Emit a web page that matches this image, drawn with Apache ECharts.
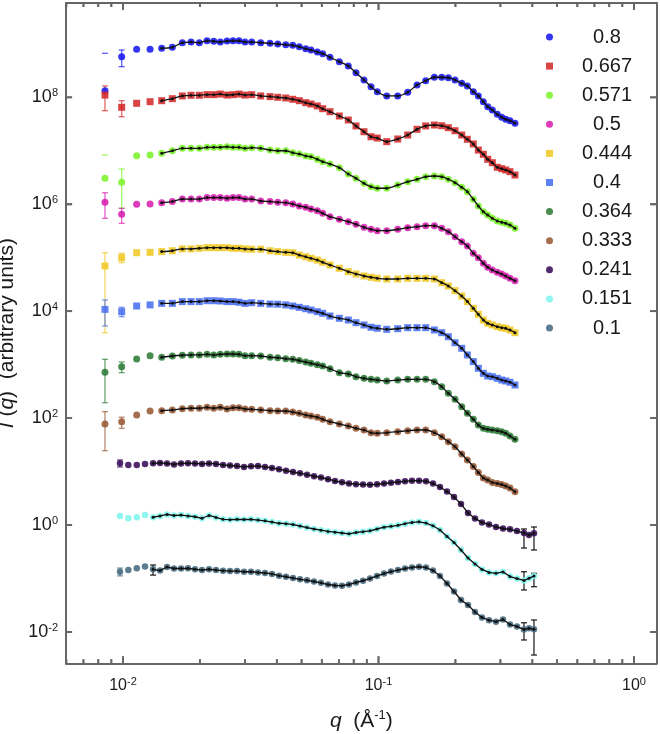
<!DOCTYPE html>
<html><head><meta charset="utf-8">
<script src="https://cdn.jsdelivr.net/npm/echarts@6/dist/echarts.min.js"></script>
<style>html,body{margin:0;padding:0;background:#fff}#c{width:660px;height:734px}</style>
</head><body><div id="c"></div><script>
// ---------- data ----------
const qTop = [0.00850,0.00988,0.01131,0.01276,0.01417,0.01560,0.01707,0.01846,0.01989,0.02132,
0.02265,0.02403,0.02553,0.02695,0.02844,0.03002,0.03189,0.03459,0.03761,0.04033,
0.04334,0.04616,0.04898,0.05190,0.05442,0.05761,0.06047,0.06457,0.07025,0.07617,
0.08164,0.08774,0.09346,0.09892,0.1077,0.1189,0.1301,0.1415,0.1530,0.1654,
0.1768,0.1876,0.1993,0.2117,0.2227,0.2350,0.2459,0.2572,0.2676,0.2789,
0.2917,0.3035,0.3147,0.3271,0.3421];
const qBot = [0.009733,0.01049,0.01132,0.01219,0.01311,0.01396,0.01487,0.01583,0.01687,0.01796,
0.01913,0.02038,0.02171,0.02312,0.02463,0.02623,0.02794,0.02976,0.03170,0.03376,
0.03596,0.03830,0.04080,0.04345,0.04628,0.04929,0.05250,0.05592,0.05957,0.06344,
0.06756,0.07197,0.07665,0.08164,0.08696,0.09262,0.09866,0.1051,0.1119,0.1192,
0.1270,0.1352,0.1441,0.1534,0.1634,0.1740,0.1854,0.1975,0.2103,0.2240,
0.2386,0.2541,0.2707,0.2883,0.3071,0.3271,0.3483,0.3710,0.3881,0.4060];

const I_0800 = [1.33e8,5.74e8,7.91e8,7.91e8,8.30e8,8.61e8,1.05e9,1.08e9,1.05e9,1.14e9,
1.12e9,1.08e9,1.13e9,1.14e9,1.14e9,1.08e9,1.08e9,1.05e9,1.02e9,9.93e8,
9.63e8,9.39e8,8.84e8,8.11e8,7.67e8,7.04e8,6.54e8,5.60e8,4.63e8,3.85e8,
2.88e8,2.11e8,1.58e8,1.27e8,1.06e8,1.06e8,1.24e8,1.70e8,2.04e8,2.37e8,
2.37e8,2.33e8,2.11e8,1.83e8,1.63e8,1.27e8,1.06e8,8.27e7,6.67e7,5.79e7,
4.81e7,4.23e7,3.88e7,3.65e7,3.26e7];
const I_0667 = [1.10e8,6.50e7,7.72e7,8.27e7,8.64e7,9.42e7,1.06e8,1.09e8,1.09e8,1.12e8,
1.12e8,1.15e8,1.10e8,1.12e8,1.15e8,1.10e8,1.12e8,1.06e8,1.03e8,1.00e8,
9.70e7,9.18e7,8.64e7,7.93e7,7.49e7,6.88e7,6.12e7,5.38e7,4.47e7,3.76e7,
2.91e7,2.27e7,1.83e7,1.73e7,1.48e7,1.66e7,1.97e7,2.52e7,2.91e7,3.03e7,
2.94e7,2.70e7,2.37e7,1.97e7,1.64e7,1.34e7,1.03e7,8.59e6,6.92e6,5.98e6,
4.91e6,4.62e6,4.37e6,4.06e6,3.52e6];
const I_0571 = [3.06e6,2.57e6,8.09e6,8.34e6,8.97e6,1.00e7,1.11e7,1.11e7,1.11e7,1.16e7,
1.16e7,1.16e7,1.19e7,1.16e7,1.16e7,1.11e7,1.14e7,1.11e7,1.03e7,1.00e7,
1.00e7,9.20e6,8.70e6,7.99e6,7.75e6,6.92e6,6.25e6,5.66e6,4.83e6,3.68e6,
3.06e6,2.46e6,2.13e6,1.99e6,1.99e6,2.29e6,2.64e6,2.93e6,3.27e6,3.37e6,
3.27e6,2.93e6,2.53e6,2.07e6,1.72e6,1.24e6,9.27e5,7.25e5,6.29e5,5.46e5,
4.86e5,4.60e5,4.40e5,4.09e5,3.55e5];
const I_0500 = [1.09e6,6.48e5,9.98e5,1.01e6,1.07e6,1.12e6,1.25e6,1.25e6,1.25e6,1.33e6,
1.33e6,1.33e6,1.29e6,1.33e6,1.33e6,1.25e6,1.25e6,1.15e6,1.12e6,1.09e6,
1.07e6,1.01e6,9.27e5,8.77e5,8.15e5,7.57e5,6.77e5,5.85e5,5.23e5,4.72e5,
4.21e5,3.71e5,3.40e5,3.20e5,3.20e5,3.40e5,3.64e5,3.80e5,3.97e5,3.97e5,
3.55e5,3.07e5,2.47e5,1.99e5,1.66e5,1.21e5,1.00e5,7.86e4,6.62e4,5.89e4,
5.34e4,4.96e4,4.55e4,4.12e4,3.72e4];
const I_0444 = [7.00e4,1.00e5,1.24e5,1.26e5,1.30e5,1.35e5,1.46e5,1.46e5,1.50e5,1.54e5,
1.54e5,1.54e5,1.54e5,1.50e5,1.50e5,1.46e5,1.44e5,1.44e5,1.35e5,1.30e5,
1.26e5,1.24e5,1.12e5,1.04e5,9.75e4,9.06e4,8.21e4,7.31e4,6.34e4,5.48e4,
4.96e4,4.55e4,4.30e4,4.12e4,4.00e4,4.00e4,4.12e4,4.12e4,4.12e4,4.00e4,
3.41e4,2.96e4,2.42e4,1.92e4,1.51e4,1.13e4,8.74e3,6.84e3,5.93e3,5.52e3,
5.13e3,4.91e3,4.79e3,4.45e3,3.96e3];
const I_0400 = [1.08e4,9.78e3,1.25e4,1.31e4,1.40e4,1.40e4,1.51e4,1.51e4,1.51e4,1.57e4,
1.57e4,1.55e4,1.51e4,1.51e4,1.47e4,1.40e4,1.44e4,1.40e4,1.36e4,1.35e4,
1.31e4,1.25e4,1.18e4,1.11e4,1.05e4,9.78e3,9.13e3,8.12e3,7.36e3,6.84e3,
6.09e3,5.52e3,5.00e3,4.79e3,4.58e3,4.70e3,4.91e3,4.91e3,4.91e3,4.45e3,
3.96e3,3.33e3,2.57e3,2.02e3,1.52e3,1.14e3,855,689,613,595,
555,516,495,468,416];
const I_0364 = [719,916,1.28e3,1.47e3,1.37e3,1.45e3,1.50e3,1.52e3,1.52e3,1.56e3,
1.52e3,1.56e3,1.58e3,1.58e3,1.56e3,1.47e3,1.47e3,1.45e3,1.37e3,1.35e3,
1.29e3,1.26e3,1.19e3,1.12e3,1.06e3,998,943,840,707,669,
595,555,532,516,495,516,532,532,532,480,
387,291,225,164,123,95.0,74.3,64.5,61.8,60.0,
58.2,55.7,52.0,46.3,40.2];
const I_0333 = [77.6,85.7,114,136,138,142,150,153,153,159,
153,159,148,157,157,148,146,142,138,136,
136,130,123,114,110,104,95.0,85.7,77.6,71.2,
64.5,60.0,53.4,52.0,53.4,55.7,58.2,60.0,60.0,53.4,
44.9,36.2,29.2,21.3,16.5,12.5,9.62,7.59,6.96,6.25,
5.99,5.73,5.38,4.93,4.21];
const I_0241 = [14.3,13.3,13.3,13.9,14.3,14.5,14.2,13.6,14.2,14.3,
14.2,13.9,14.2,13.9,13.3,13.0,12.7,12.2,12.6,12.7,
12.2,11.7,11.0,10.4,9.82,9.29,8.75,8.20,7.75,7.21,
6.67,6.31,5.99,5.81,5.73,5.69,5.79,5.99,6.20,6.39,
6.58,6.75,6.75,6.58,5.99,5.15,4.24,3.35,2.48,1.68,
1.33,1.12,1.02,0.920,0.862,0.833,0.774,0.710,0.652,0.701];
const I_0151 = [1.48,1.34,1.40,1.54,1.40,1.48,1.58,1.51,1.54,1.48,
1.43,1.34,1.51,1.39,1.28,1.26,1.28,1.27,1.28,1.24,
1.20,1.14,1.08,1.06,1.02,0.960,0.896,0.844,0.802,0.761,
0.735,0.710,0.686,0.726,0.751,0.781,0.844,0.912,0.948,0.990,
1.06,1.12,1.15,1.09,0.969,0.808,0.611,0.472,0.342,0.242,
0.187,0.148,0.130,0.125,0.133,0.109,0.100,0.0919,0.101,0.112];
const I_0100 = [0.134,0.144,0.155,0.167,0.149,0.141,0.164,0.154,0.154,0.155,
0.149,0.144,0.149,0.144,0.140,0.138,0.138,0.134,0.134,0.130,
0.127,0.122,0.113,0.108,0.102,0.0967,0.0927,0.0880,0.0832,0.0773,
0.0741,0.0734,0.0773,0.0843,0.0911,0.100,0.112,0.124,0.135,0.144,
0.154,0.161,0.166,0.161,0.141,0.112,0.0807,0.0572,0.0397,0.0320,
0.0237,0.0187,0.0166,0.0156,0.0171,0.0138,0.0127,0.0111,0.0117,0.0112];

// error bars: [point index, lower (null = cap only), upper]
const E_0800 = [[0,null,6.65e8],[1,3.74e8,7.67e8]];
const E_0667 = [[0,5.62e7,1.63e8],[1,4.34e7,8.64e7]];
const E_0571 = [[0,null,8.34e6],[1,8.40e5,4.56e6]];
const E_0500 = [[0,5.46e5,1.64e6],[1,4.40e5,8.40e5]];
const E_0444 = [[0,3.96e3,1.24e5],[1,8.07e4,1.21e5]];
const E_0400 = [[0,5.28e3,1.62e4],[1,7.88e3,1.18e4]];
const E_0364 = [[0,194,1.26e3],[1,707,1.12e3]];
const E_0333 = [[0,24.6,132],[1,64.5,104]];
const E_0241 = [[0,12.2,16.5],[57,0.372,0.844],[59,0.342,0.920]];
const E_0151 = [[57,0.0610,0.134],[59,0.0704,0.125]];
const E_0100 = [[0,0.112,0.157],[4,0.116,0.179],[57,0.00709,0.0149],[59,0.00371,0.0168]];

const legendNames = ['0.8','0.667','0.571','0.5','0.444','0.4','0.364','0.333','0.241','0.151','0.1'];
const xMajorTicks = [0.01,0.1,1];
const xMinorTicks = [0.006,0.007,0.008,0.009,0.02,0.03,0.04,0.05,0.06,0.07,0.08,0.09,0.2,0.3,0.4,0.5,0.6,0.7,0.8,0.9];
const yMajorTicks = [1e-2,1,1e2,1e4,1e6,1e8];
const xRange = [0.005982,1.227];
const yRange = [0.002598,5.80e9];

// ---------- styling ----------
const colors = ['#1818f2','#d42a2a','#7cf22a','#d820b0','#f0c824','#4a6ff0','#2e7d38','#9a5a36','#3a0c5a','#80f5ee','#456a80'];
const symbols = ['circle','rect','circle','circle','rect','rect','circle','circle','circle','circle','circle'];
const sets = [
  [qTop,I_0800,E_0800],[qTop,I_0667,E_0667],[qTop,I_0571,E_0571],[qTop,I_0500,E_0500],
  [qTop,I_0444,E_0444],[qTop,I_0400,E_0400],[qTop,I_0364,E_0364],[qTop,I_0333,E_0333],
  [qBot,I_0241,E_0241],[qBot,I_0151,E_0151],[qBot,I_0100,E_0100]
];
const FIT_START = 4;
const FONT = 'Liberation Sans, Arial, Helvetica, sans-serif';
const AX = '#666666';
const TXT = '#1a1a1a';
// tick lengths expressed as fractions of a decade on each log axis
const TICK_MAJ_Y = 0.13, TICK_MIN_Y = 0.075;
const TICK_Y_L = 0.024, TICK_Y_R = 0.026;

function supLabel(v){
  const e = Math.round(Math.log10(v));
  return '{b|10}{s|' + e + '}';
}

function makeErr(q, err, color){
  return function(params, api){
    const e = err[params.dataIndex];
    const x = q[e[0]];
    const hi = api.coord([x, e[2]]);
    const c = e[0] >= FIT_START ? '#111' : color;
    const st = {stroke: c, lineWidth: 1.3, opacity: e[0] >= FIT_START ? 0.9 : 0.7};
    const w = 3;
    const ch = [];
    if (e[1] != null) {
      const lo = api.coord([x, e[1]]);
      ch.push({type:'line', shape:{x1:lo[0],y1:lo[1],x2:hi[0],y2:hi[1]}, style:st});
      ch.push({type:'line', shape:{x1:lo[0]-w,y1:lo[1],x2:lo[0]+w,y2:lo[1]}, style:st});
    }
    ch.push({type:'line', shape:{x1:hi[0]-w,y1:hi[1],x2:hi[0]+w,y2:hi[1]}, style:st});
    return {type:'group', children: ch};
  };
}

const series = [];
sets.forEach((s, k) => {
  const q = s[0], I = s[1], err = s[2];
  const pts = q.map((v, i) => [v, I[i]]);
  series.push({
    type:'custom', name:'err'+k, silent:true, z:1,
    renderItem: makeErr(q, err, colors[k]),
    data: err.map(e => [q[e[0]], e[2]]),
    xAxisIndex:0, yAxisIndex:0
  });
  series.push({
    type:'scatter', name: legendNames[k], data: pts,
    symbol: symbols[k], symbolSize: k >= 8 ? 6.5 : 7,
    itemStyle:{color: colors[k], opacity: 0.88},
    z:2, xAxisIndex:0, yAxisIndex:0, silent:true
  });
  series.push({
    type:'line', name:'fit'+k, data: pts.slice(FIT_START),
    smooth: k < 8 ? 0.3 : false,
    symbol:'circle', symbolSize: 3, showSymbol:true,
    lineStyle:{color:'#111', width:1.3},
    itemStyle:{color:'#111'},
    z:3, xAxisIndex:0, yAxisIndex:0, silent:true
  });
});

// frame tick marks as broken line segments in data space on the log axes
function xTickSegs(vals, frac){
  const f = Math.pow(10, frac), out = [];
  vals.forEach(v => {
    out.push([v, yRange[0]], [v, yRange[0] * f], ['-', '-']);
    out.push([v, yRange[1]], [v, yRange[1] / f], ['-', '-']);
  });
  return out;
}
function yTickSegs(vals, fracL, fracR){
  const fl = Math.pow(10, fracL), fr = Math.pow(10, fracR), out = [];
  vals.forEach(v => {
    out.push([xRange[0], v], [xRange[0] * fl, v], ['-', '-']);
    out.push([xRange[1], v], [xRange[1] / fr, v], ['-', '-']);
  });
  return out;
}
const tickLine = {type:'line', symbol:'none', silent:true, z:10, connectNulls:false, clip:false,
  xAxisIndex:0, yAxisIndex:0, lineStyle:{color:AX, width:1.8}};
series.push(Object.assign({name:'ticksXMaj', data: xTickSegs(xMajorTicks, TICK_MAJ_Y)}, tickLine));
series.push(Object.assign({name:'ticksXMin', data: xTickSegs(xMinorTicks, TICK_MIN_Y)}, tickLine));
series.push(Object.assign({name:'ticksY', data: yTickSegs(yMajorTicks, TICK_Y_L, TICK_Y_R)}, tickLine));

const labRich = {
  b:{fontSize:18, fontFamily:FONT, color:TXT, lineHeight:20},
  s:{fontSize:11, fontFamily:FONT, color:TXT, verticalAlign:'top', lineHeight:11}
};
const xlabRich = {
  b:{fontSize:16, fontFamily:FONT, color:TXT, lineHeight:18},
  s:{fontSize:11, fontFamily:FONT, color:TXT, verticalAlign:'top', lineHeight:11}
};

function logX(extra){
  return Object.assign({
    type:'log', logBase:10, min:xRange[0], max:xRange[1], gridIndex:0,
    splitLine:{show:false}, axisLine:{show:false, onZero:false},
    axisLabel:{show:false}, axisTick:{show:false}
  }, extra);
}
function logY(extra){
  return Object.assign({
    type:'log', logBase:10, min:yRange[0], max:yRange[1], gridIndex:0,
    splitLine:{show:false}, axisLine:{show:false, onZero:false},
    axisLabel:{show:false}, axisTick:{show:false}
  }, extra);
}

const option = {
  animation:false,
  backgroundColor:'#fff',
  grid:{left:66, top:3, width:590.7, height:660.3, containLabel:false, outerBoundsMode:'none'},
  legend:{
    data: legendNames, orient:'vertical', left:546, top:27, padding:0,
    itemWidth:7, itemHeight:7, itemGap:9.1, selectedMode:false,
    formatter: n => '{t|' + n + '}',
    textStyle:{color:TXT, fontFamily:FONT, fontSize:20,
      rich:{t:{width:98, align:'center', fontSize:20, lineHeight:20, fontFamily:FONT, color:TXT}}}
  },
  xAxis:[
    logX({position:'bottom',
      axisLine:{show:true, onZero:false, lineStyle:{color:AX, width:2}},
      axisLabel:{show:true, customValues:xMajorTicks, margin:13, formatter:supLabel, rich:xlabRich},
      name:'{i|q}{n|  (Å}{s|-1}{n|)}', nameLocation:'middle', nameGap:46,
      nameTextStyle:{rich:{
        i:{fontSize:21, fontStyle:'italic', fontFamily:FONT, color:TXT, lineHeight:24},
        n:{fontSize:21, fontFamily:FONT, color:TXT, lineHeight:24},
        s:{fontSize:13, fontFamily:FONT, color:TXT, verticalAlign:'top', lineHeight:13}
      }}
    }),
    logX({position:'top',
      axisLine:{show:true, onZero:false, lineStyle:{color:AX, width:2}}})
  ],
  yAxis:[
    logY({position:'left',
      axisLine:{show:true, onZero:false, lineStyle:{color:AX, width:2}},
      axisLabel:{show:true, customValues:yMajorTicks, margin:8, formatter:supLabel, rich:labRich},
      name:'{i|I}{n| (}{i|q}{n|)  (arbitrary units)}', nameLocation:'middle', nameGap:40,
      nameTextStyle:{rich:{
        i:{fontSize:21, fontStyle:'italic', fontFamily:FONT, color:TXT, lineHeight:24},
        n:{fontSize:21, fontFamily:FONT, color:TXT, lineHeight:24}
      }}
    }),
    logY({position:'right',
      axisLine:{show:true, onZero:false, lineStyle:{color:AX, width:2}}})
  ],
  series: series
};

const chart = echarts.init(document.getElementById('c'), null, {renderer:'canvas'});
chart.setOption(option);

// additional frame ticks via the graphic layer, positioned by the chart's own axes
function buildTicks(){
  const g = [];
  const yb = chart.convertToPixel({yAxisIndex:0}, yRange[0]);
  const yt = chart.convertToPixel({yAxisIndex:0}, yRange[1]);
  const xl = chart.convertToPixel({xAxisIndex:0}, xRange[0]);
  const xr = chart.convertToPixel({xAxisIndex:0}, xRange[1]);
  const st = {stroke: AX, lineWidth: 1.8};
  function xt(v, len){
    const x = chart.convertToPixel({xAxisIndex:0}, v);
    g.push({type:'line', silent:true, z:100, shape:{x1:x, y1:yb, x2:x, y2:yb-len}, style:st});
    g.push({type:'line', silent:true, z:100, shape:{x1:x, y1:yt, x2:x, y2:yt+len}, style:st});
  }
  xMajorTicks.forEach(v => xt(v, 7));
  xMinorTicks.forEach(v => xt(v, 4));
  yMajorTicks.forEach(v => {
    const y = chart.convertToPixel({yAxisIndex:0}, v);
    g.push({type:'line', silent:true, z:100, shape:{x1:xl, y1:y, x2:xl+6, y2:y}, style:st});
    g.push({type:'line', silent:true, z:100, shape:{x1:xr, y1:y, x2:xr-6.5, y2:y}, style:st});
  });
  return g.filter(e => isFinite(e.shape.x1) && isFinite(e.shape.y1));
}
try { chart.setOption({graphic: buildTicks()}); } catch (e) {}
</script></body></html>
